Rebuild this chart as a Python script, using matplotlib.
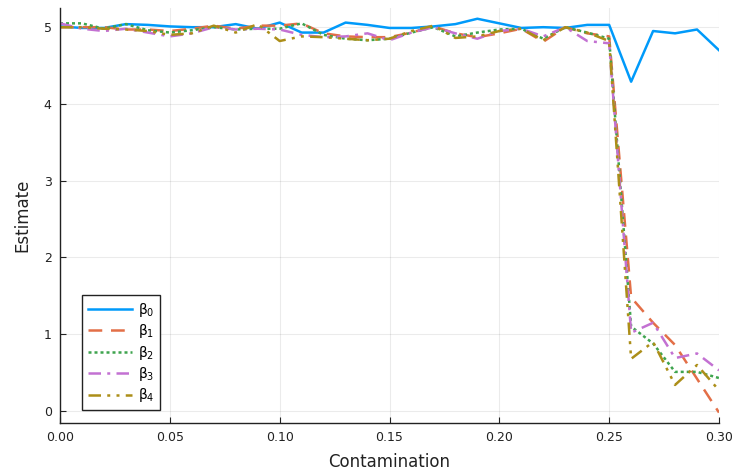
import numpy as np
import matplotlib
matplotlib.use("Agg")
import matplotlib.pyplot as plt

contamination = [round(0.01 * i, 2) for i in range(31)]

beta0 = [5.01, 4.99, 4.99, 5.04, 5.03, 5.01, 5.00, 5.00, 5.04, 4.98,
         5.06, 4.93, 4.93, 5.06, 5.03, 4.99, 4.99, 5.01, 5.04, 5.11,
         5.05, 4.99, 5.00, 4.99, 5.03, 5.03, 4.29, 4.95, 4.92, 4.97, 4.70]
beta1 = [5.00, 5.00, 5.00, 4.97, 4.97, 4.95, 4.98, 5.02, 4.98, 5.02,
         5.02, 5.05, 4.92, 4.88, 4.87, 4.87, 4.93, 5.01, 4.92, 4.87,
         4.92, 4.98, 4.81, 5.00, 4.92, 4.88, 1.48, 1.15, 0.86, 0.42, -0.02]
beta2 = [5.05, 5.05, 4.98, 5.04, 4.96, 4.93, 4.96, 5.00, 4.97, 4.98,
         4.98, 5.05, 4.90, 4.85, 4.83, 4.85, 4.93, 5.00, 4.88, 4.93,
         4.97, 4.98, 4.85, 5.00, 4.93, 4.85, 1.10, 0.88, 0.51, 0.51, 0.43]
beta3 = [5.05, 4.98, 4.95, 4.98, 4.93, 4.88, 4.92, 5.00, 4.97, 4.98,
         4.97, 4.90, 4.87, 4.88, 4.92, 4.83, 4.93, 5.00, 4.92, 4.85,
         4.95, 4.98, 4.88, 5.00, 4.82, 4.79, 1.02, 1.15, 0.69, 0.75, 0.53]
beta4 = [5.00, 5.00, 4.98, 4.97, 4.95, 4.90, 4.92, 5.02, 4.93, 5.04,
         4.82, 4.88, 4.87, 4.85, 4.83, 4.85, 4.95, 5.02, 4.86, 4.88,
         4.95, 4.98, 4.83, 5.00, 4.93, 4.82, 0.68, 0.90, 0.34, 0.60, 0.27]

labels = ["β$_0$", "β$_1$", "β$_2$", "β$_3$", "β$_4$"]
colors = ["#009AFA", "#E36F47", "#3EA44E", "#C371D2", "#AC8E18"]
styles = ["-", (0, (5.5, 3.5)), (0, (1.2, 1.2)), (0, (5, 2.5, 1.2, 2.5)),
          (0, (5, 2.5, 1.2, 2.5, 1.2, 2.5))]
series = [beta0, beta1, beta2, beta3, beta4]

plt.rcParams['font.family'] = ['DejaVu Sans']
plt.rcParams['mathtext.fontset'] = 'dejavusans'

fig = plt.figure(figsize=(7.36, 4.75), dpi=100)
ax = fig.add_axes([60 / 736, 1 - 423 / 475, (719 - 60) / 736, (423 - 8) / 475])

for ys, lab, c, ls in zip(series, labels, colors, styles):
    ax.plot(contamination, ys, color=c, linestyle=ls, linewidth=1.8, label=lab)

ax.set_xlim(0, 0.30)
ax.set_ylim(-0.156, 5.25)
ax.set_xticks([0.00, 0.05, 0.10, 0.15, 0.20, 0.25, 0.30])
ax.set_xticklabels(["0.00", "0.05", "0.10", "0.15", "0.20", "0.25", "0.30"])
ax.set_yticks([0, 1, 2, 3, 4, 5])
ax.grid(True, color="#000000", alpha=0.08, linewidth=0.8)
ax.set_axisbelow(True)
for s in ["top", "right"]:
    ax.spines[s].set_visible(False)
for s in ["left", "bottom"]:
    ax.spines[s].set_color("#222222")
    ax.spines[s].set_linewidth(1.0)
ax.tick_params(direction="in", length=4, width=0.8, labelsize=9, color="#222222",
               labelcolor="#222222")
ax.tick_params(axis="x", pad=6)
ax.tick_params(axis="y", pad=6)
ax.set_xlabel("Contamination", fontsize=12, color="#222222", labelpad=6)
ax.set_ylabel("Estimate", fontsize=12, color="#222222", labelpad=9)

leg = ax.legend(loc="lower left", bbox_to_anchor=(22 / 659, 13 / 415), fontsize=10,
                frameon=True, fancybox=False, edgecolor="#222222", framealpha=1,
                handlelength=3.2, labelspacing=0.25, borderpad=0.4, handletextpad=0.4,
                borderaxespad=0)
leg.get_frame().set_linewidth(1.0)

fig.savefig("out.png", dpi=100)
